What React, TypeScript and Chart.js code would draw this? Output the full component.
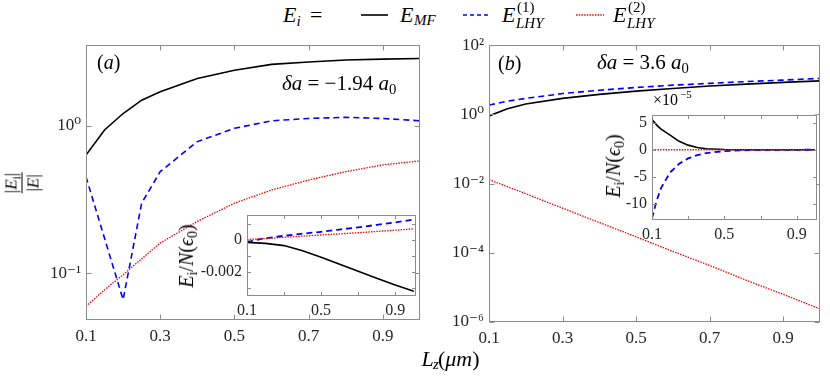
import React, { useEffect, useRef } from "react";
import { Chart, registerables } from "chart.js";

Chart.register(...registerables);

// ---------- Panel (a): main, delta a = -1.94 a0 ----------
const lzA = [0.1, 0.15, 0.2, 0.25, 0.3, 0.4, 0.5, 0.6, 0.7, 0.8, 0.9, 1.0];
const emfA = [0.633, 0.935, 1.21, 1.49, 1.7, 2.09, 2.38, 2.61, 2.71, 2.79, 2.83, 2.86];
const lhy1A = [0.45, 0.172, 0.066, 0.298, 0.488, 0.78, 0.96, 1.08, 1.12, 1.14, 1.12, 1.08];
const lhy2A = [0.0594, 0.077, 0.0973, 0.125, 0.16, 0.224, 0.298, 0.366, 0.428, 0.488, 0.542, 0.577];

// ---------- Panel (a): inset, E_i / N (eps0) ----------
const lzInA = [0.1, 0.2, 0.3, 0.4, 0.5, 0.6, 0.7, 0.8, 0.9, 1.0];
const emfInA = [-0.00016, -0.00022, -0.00036, -0.00068, -0.00108, -0.00152, -0.00196, -0.0024, -0.00281, -0.0032];
const lhy1InA = [-0.00012, 0.0001, 0.00025, 0.00038, 0.0005, 0.00064, 0.00078, 0.00093, 0.00108, 0.00126];
const lhy2InA = [0.00002, 0.00008, 0.00016, 0.00023, 0.0003, 0.00037, 0.00044, 0.00052, 0.0006, 0.00068];

// ---------- Panel (b): main, delta a = 3.6 a0 ----------
const lzB = [0.1, 0.15, 0.2, 0.3, 0.4, 0.5, 0.6, 0.7, 0.8, 0.9, 1.0];
const emfB = [0.9, 1.45, 1.99, 2.9, 3.8, 4.7, 5.6, 6.6, 7.5, 8.4, 9.3];
const lhy1B = [1.86, 2.4, 2.9, 4.0, 5.0, 6.0, 7.0, 7.9, 8.9, 9.8, 11];
const lhy2B = [1.3e-2, 8.2e-3, 5.1e-3, 1.95e-3, 7.5e-4, 2.9e-4, 1.1e-4, 4.3e-5, 1.6e-5, 6.3e-6, 2.4e-6];

// ---------- Panel (b): inset, units of 1e-5 ----------
const lzInB = [0.1, 0.125, 0.15, 0.2, 0.25, 0.3, 0.35, 0.4, 0.5, 0.6, 0.7, 0.8, 0.9, 1.0];
const emfInB = [5.6, 4.6, 3.8, 2.7, 1.55, 0.85, 0.42, 0.18, 0.04, 0.01, 0, 0, 0, 0];
const lhy1InB = [-12.7, -9.5, -7.1, -4.2, -2.6, -1.6, -1.0, -0.62, -0.25, -0.1, -0.04, -0.02, -0.01, 0];
const lhy2InB = [0, 0, 0, 0, 0, 0, 0, 0, 0, 0, 0, 0, 0, 0];

// ---------- ticks ----------
const xTickVals = [0.1, 0.3, 0.5, 0.7, 0.9];
const xLabelsMain = [0.1, 0.3, 0.5, 0.7, 0.9];
const xLabelsInset = [0.1, 0.5, 0.9];
const yTicksA = [0.1, 1];
const yTicksB = [1e-6, 1e-4, 1e-2, 1, 100];
const yTicksInA = [-0.003, -0.002, -0.001, 0, 0.001];
const yLabelsInA = [-0.002, 0];
const yTicksInB = [-10, -5, 0, 5];

const FONT = '"Liberation Serif", "DejaVu Serif", "Times New Roman", serif';
const AXIS_COLOR = "#8c8c8c";
const TICK_COLOR = "#262626";

const supMap: Record<string, string> = {
  "-": "\u207B", "0": "\u2070", "1": "\u00B9", "2": "\u00B2", "3": "\u00B3",
  "4": "\u2074", "5": "\u2075", "6": "\u2076", "7": "\u2077", "8": "\u2078", "9": "\u2079",
};
const pow10Label = (v: number) =>
  "10" + String(Math.round(Math.log10(v))).split("").map((c) => supMap[c]).join("");

const framePlugin = {
  id: "frame",
  beforeDraw(chart: any, _a: any, o: any) {
    if (!o.white) return;
    const { ctx, chartArea: a } = chart;
    ctx.save();
    ctx.fillStyle = "#fff";
    ctx.fillRect(a.left, a.top, a.right - a.left, a.bottom - a.top);
    ctx.restore();
  },
  afterDatasetsDraw(chart: any, _a: any, o: any) {
    const { ctx, chartArea: a, scales } = chart;
    const L = Math.round(a.left) + 0.5;
    const R = Math.round(a.right) - 0.5;
    const T = Math.round(a.top) + 0.5;
    const B = Math.round(a.bottom) - 0.5;
    ctx.save();
    ctx.strokeStyle = o.color;
    ctx.lineWidth = 1;
    ctx.strokeRect(L, T, R - L, B - T);
    ctx.beginPath();
    for (const t of scales.x.ticks) {
      const p = Math.round(scales.x.getPixelForValue(t.value)) + 0.5;
      ctx.moveTo(p, B); ctx.lineTo(p, B - o.len);
      ctx.moveTo(p, T); ctx.lineTo(p, T + o.len);
    }
    for (const t of scales.y.ticks) {
      const p = Math.round(scales.y.getPixelForValue(t.value)) + 0.5;
      ctx.moveTo(L, p); ctx.lineTo(L + o.len, p);
      ctx.moveTo(R, p); ctx.lineTo(R - o.len, p);
    }
    ctx.stroke();
    ctx.restore();
  },
};

type Series = { xs: number[]; ys: number[]; color: string; width: number; dash: number[] };
type Box = { left: number; top: number; width: number; height: number };
type Area = { left: number; right: number; top: number; bottom: number };
type PanelProps = {
  box: Box; area: Area; series: Series[];
  xMin: number; xMax: number; xTicks: number[]; xLabels: number[];
  yLog: boolean; yMin: number; yMax: number; yTicks: number[]; yLabels: number[];
  yFmt: (v: number) => string; font: number; xPad: number; yPad: number; tickLen: number; white: boolean;
};

function Panel(p: PanelProps) {
  const ref = useRef<HTMLCanvasElement>(null);
  const W = p.box.width, H = p.box.height;
  useEffect(() => {
    const aL = p.area.left - p.box.left;
    const aR = p.area.right - p.box.left;
    const aT = p.area.top - p.box.top;
    const aB = p.area.bottom - p.box.top;
    const chart = new Chart(ref.current as HTMLCanvasElement, {
      type: "line",
      data: {
        datasets: p.series.map((s) => ({
          data: s.xs.map((x, i) => ({ x, y: s.ys[i] })),
          borderColor: s.color, borderWidth: s.width, borderDash: s.dash,
          pointRadius: 0, fill: false, tension: 0,
        })),
      } as any,
      options: {
        responsive: false, animation: false, events: [],
        layout: { padding: { left: 0, top: aT, right: W - aR, bottom: 0 } },
        plugins: {
          legend: { display: false }, tooltip: { enabled: false },
          frame: { color: AXIS_COLOR, len: p.tickLen, white: p.white },
        } as any,
        scales: {
          x: {
            type: "linear", min: p.xMin, max: p.xMax, bounds: "data",
            grid: { display: false, drawTicks: false }, border: { display: false },
            afterFit: (s: any) => { s.height = H - aB; },
            afterBuildTicks: (s: any) => { s.ticks = p.xTicks.map((v) => ({ value: v })); },
            ticks: {
              autoSkip: false, maxRotation: 0, padding: p.xPad, color: TICK_COLOR,
              font: { family: FONT, size: p.font },
              callback: (v: any) => (p.xLabels.includes(v) ? String(v) : ""),
            },
          },
          y: {
            type: p.yLog ? "logarithmic" : "linear", min: p.yMin, max: p.yMax, bounds: "data",
            grid: { display: false, drawTicks: false }, border: { display: false },
            afterFit: (s: any) => { s.width = aL; },
            afterBuildTicks: (s: any) => { s.ticks = p.yTicks.map((v) => ({ value: v })); },
            ticks: {
              autoSkip: false, padding: p.yPad, color: TICK_COLOR,
              font: { family: FONT, size: p.font },
              callback: (v: any) => (p.yLabels.includes(v) ? p.yFmt(v) : ""),
            },
          },
        } as any,
      },
      plugins: [framePlugin as any],
    });
    let alive = true;
    if ((document as any).fonts && (document as any).fonts.load) {
      (document as any).fonts
        .load(`${p.font}px "Liberation Serif"`)
        .then(() => { if (alive) chart.update(); })
        .catch(() => {});
    }
    return () => { alive = false; chart.destroy(); };
  }, []);
  return (
    <canvas
      ref={ref}
      width={W}
      height={H}
      style={{ position: "absolute", left: p.box.left, top: p.box.top, width: W, height: H }}
    />
  );
}

function T(props: { x: number; b: number; s: number; it?: boolean; children: any }) {
  const { x, b, s, it, children } = props;
  return (
    <span
      style={{
        position: "absolute", left: x, top: b - 0.8375 * s, fontSize: s, lineHeight: 1,
        fontStyle: it ? "italic" : "normal", whiteSpace: "nowrap", fontFamily: FONT, color: "#000",
      }}
    >
      {children}
    </span>
  );
}

function Rot(props: { cx: number; cy: number; s: number; children: any }) {
  const { cx, cy, s, children } = props;
  return (
    <div
      style={{
        position: "absolute", left: cx, top: cy, fontSize: s, lineHeight: 1, whiteSpace: "nowrap",
        fontFamily: FONT, color: "#000", transform: "translate(-50%,-50%) rotate(-90deg)",
      }}
    >
      {children}
    </div>
  );
}

const subStyle: any = { fontSize: "0.7em", verticalAlign: "-0.3em", lineHeight: 0 };

function Sample(props: { x1: number; x2: number; y: number; color: string; dash?: string; w: number }) {
  const { x1, x2, y, color, dash, w } = props;
  return (
    <svg style={{ position: "absolute", left: x1, top: y - 3 }} width={x2 - x1} height={6}>
      <line x1={0} y1={3} x2={x2 - x1} y2={3} stroke={color} strokeWidth={w} strokeDasharray={dash} />
    </svg>
  );
}

const BLACK = "#000000";
const BLUE = "#0000ff";
const RED = "#ff0000";

export default function App() {
  const mk = (xs: number[], a: number[], b: number[], c: number[], inset: boolean): Series[] => [
    { xs, ys: c, color: RED, width: 1.3, dash: [1.5, 1.2] },
    { xs, ys: b, color: BLUE, width: inset ? 1.8 : 1.6, dash: [6, 4] },
    { xs, ys: a, color: BLACK, width: 1.6, dash: [] },
  ];
  return (
    <div
      style={{
        position: "absolute", left: 0, top: 0, width: 830, height: 384, background: "#fff",
        overflow: "hidden", fontFamily: FONT,
      }}
    >
      <Panel
        box={{ left: 0, top: 30, width: 425, height: 320 }}
        area={{ left: 86, right: 420, top: 45, bottom: 320 }}
        series={mk(lzA, emfA, lhy1A, lhy2A, false)}
        xMin={0.1} xMax={1.0} xTicks={xTickVals} xLabels={xLabelsMain}
        yLog={true} yMin={0.048} yMax={3.52} yTicks={yTicksA} yLabels={yTicksA} yFmt={pow10Label}
        font={17} xPad={6} yPad={5} tickLen={5} white={false}
      />
      <Panel
        box={{ left: 430, top: 30, width: 400, height: 325 }}
        area={{ left: 489, right: 820, top: 45, bottom: 322 }}
        series={mk(lzB, emfB, lhy1B, lhy2B, false)}
        xMin={0.1} xMax={1.0} xTicks={xTickVals} xLabels={xLabelsMain}
        yLog={true} yMin={1e-6} yMax={100} yTicks={yTicksB} yLabels={yTicksB} yFmt={pow10Label}
        font={17} xPad={6} yPad={5} tickLen={5} white={false}
      />
      <Panel
        box={{ left: 170, top: 200, width: 250, height: 125 }}
        area={{ left: 247, right: 416, top: 211, bottom: 296 }}
        series={mk(lzInA, emfInA, lhy1InA, lhy2InA, true)}
        xMin={0.1} xMax={1.012} xTicks={xTickVals} xLabels={xLabelsInset}
        yLog={false} yMin={-0.0035} yMax={0.00157} yTicks={yTicksInA} yLabels={yLabelsInA} yFmt={(v) => String(v)}
        font={16} xPad={5} yPad={5} tickLen={3.5} white={true}
      />
      <Panel
        box={{ left: 600, top: 100, width: 225, height: 150 }}
        area={{ left: 652, right: 817, top: 111, bottom: 220 }}
        series={mk(lzInB, emfInB, lhy1InB, lhy2InB, true)}
        xMin={0.1} xMax={1.012} xTicks={xTickVals} xLabels={xLabelsInset}
        yLog={false} yMin={-13} yMax={6.5} yTicks={yTicksInB} yLabels={yTicksInB} yFmt={(v) => String(v)}
        font={16} xPad={5} yPad={5} tickLen={3.5} white={true}
      />

      {/* legend */}
      <T x={283} b={22.7} s={22} it>E</T>
      <T x={296.5} b={26.5} s={15} it>i</T>
      <T x={310} b={22.7} s={22}>=</T>
      <Sample x1={361} x2={388} y={15} color={BLACK} w={1.6} />
      <T x={400} b={22.7} s={22} it>E</T>
      <T x={414} b={26} s={15} it>MF</T>
      <Sample x1={463} x2={488} y={15} color={BLUE} w={1.6} dash="4 3" />
      <T x={502} b={22.7} s={22} it>E</T>
      <T x={517} b={12.5} s={15}>(1)</T>
      <T x={516} b={28.5} s={15} it>LHY</T>
      <Sample x1={576} x2={604} y={15} color={RED} w={1.4} dash="1.5 1.2" />
      <T x={613} b={22.7} s={22} it>E</T>
      <T x={628} b={12.5} s={15}>(2)</T>
      <T x={627} b={28.5} s={15} it>LHY</T>

      {/* panel annotations */}
      <T x={97} b={69} s={20}>(<i>a</i>)</T>
      <T x={282} b={90.5} s={21}>
        <i>δa</i> = −1.94 <i>a</i><sub style={subStyle}>0</sub>
      </T>
      <T x={498} b={69.5} s={20}>(<i>b</i>)</T>
      <T x={597} b={70} s={21}>
        <i>δa</i> = 3.6 <i>a</i><sub style={subStyle}>0</sub>
      </T>
      <T x={653} b={105} s={16}>×10</T>
      <T x={680} b={98} s={11}>−5</T>

      {/* axis labels */}
      <T x={421.5} b={366} s={22} it>L</T>
      <T x={433} b={369.5} s={15} it>z</T>
      <T x={438} b={366} s={22}>
        (<i>μm</i>)
      </T>
      <Rot cx={21.7} cy={182.5} s={17}>
        <div style={{ display: "flex", flexDirection: "column", alignItems: "center" }}>
          <div>
            |<i>E</i><sub style={subStyle}>i</sub>|
          </div>
          <div style={{ borderTop: "1px solid #000", width: "100%", margin: "2px 0" }} />
          <div>
            |<i>E</i>|
          </div>
        </div>
      </Rot>
      <Rot cx={186} cy={256} s={20}>
        <i>E</i><sub style={subStyle}>i</sub>/<i>N</i>(<i>ϵ</i><sub style={subStyle}>0</sub>)
      </Rot>
      <Rot cx={612.5} cy={166} s={20}>
        <i>E</i><sub style={subStyle}>i</sub>/<i>N</i>(<i>ϵ</i><sub style={subStyle}>0</sub>)
      </Rot>
    </div>
  );
}
